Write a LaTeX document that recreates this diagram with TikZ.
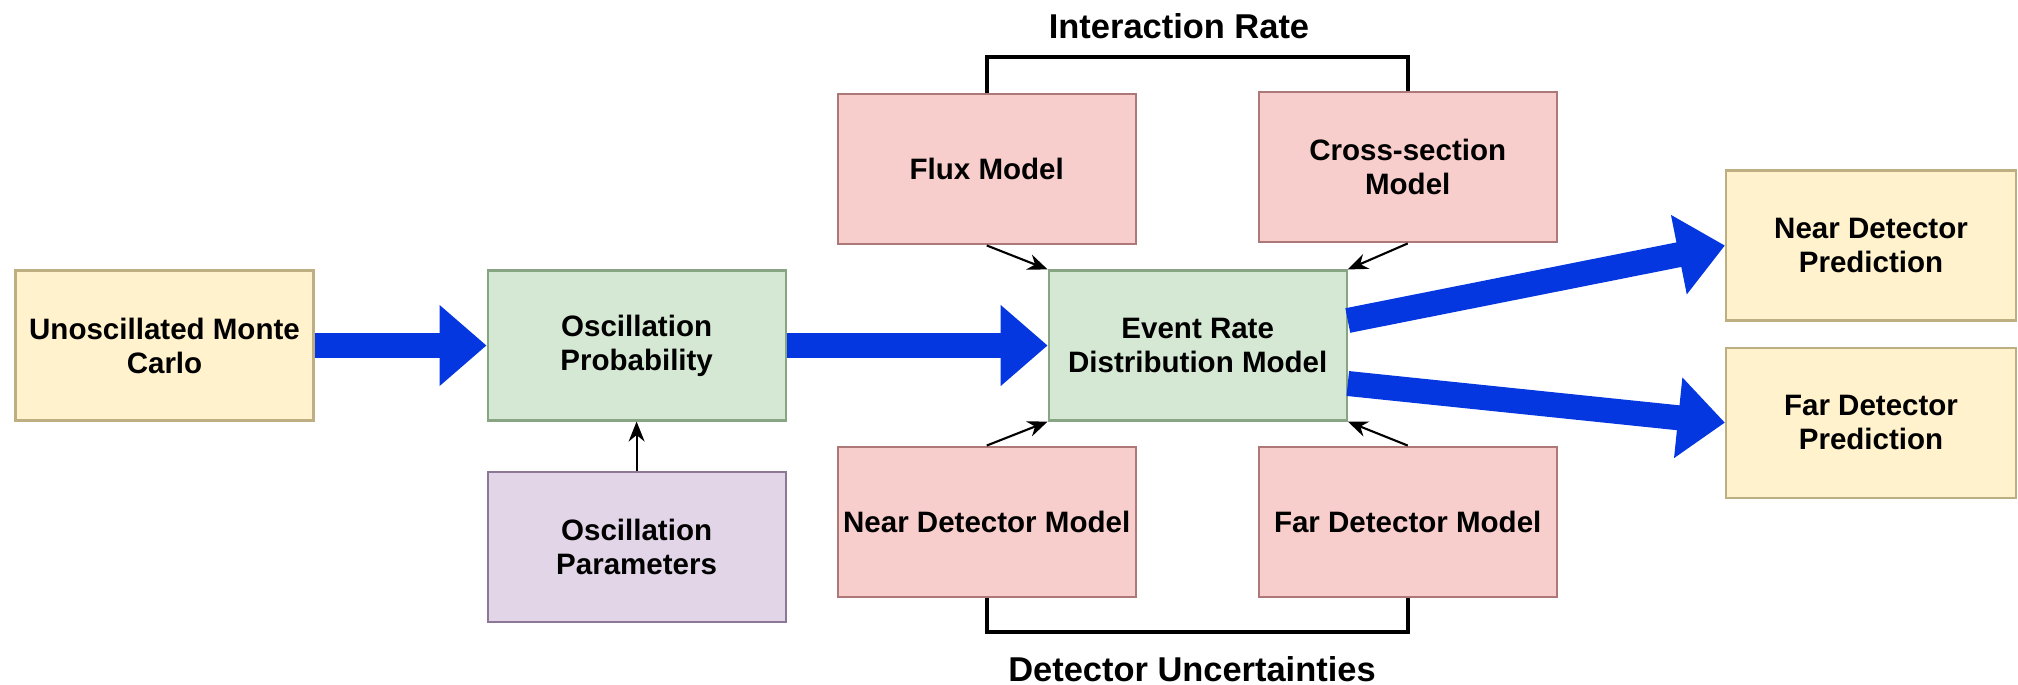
\documentclass[tikz,border=0pt]{standalone}
\usepackage{fontspec}
\setmainfont{Liberation Sans}
\usetikzlibrary{positioning,arrows.meta,calc}
\definecolor{boxyel}{HTML}{FFF2CC}
\definecolor{lineyel}{RGB}{190,175,130}
\definecolor{boxgrn}{HTML}{D5E8D4}
\definecolor{linegrn}{RGB}{135,165,130}
\definecolor{boxred}{HTML}{F8CECC}
\definecolor{linered}{RGB}{175,120,120}
\definecolor{boxpur}{HTML}{E1D5E7}
\definecolor{linepur}{RGB}{140,120,150}
\definecolor{flowblue}{RGB}{5,55,225}

\begin{document}
\begin{tikzpicture}[font=\fontsize{8.4pt}{9.65pt}\selectfont\bfseries,>=Stealth,
  blk/.style={draw,line width=0.6pt,minimum width=2.98cm,minimum height=1.5cm,
    inner sep=1pt,align=center},
  input/.style={blk,fill=boxyel,draw=lineyel},
  calc/.style={blk,fill=boxgrn,draw=linegrn},
  model/.style={blk,fill=boxred,draw=linered},
  param/.style={blk,fill=boxpur,draw=linepur},
  flow/.style={line width=0.25cm,draw=flowblue,
    -{Triangle[width=0.78cm,length=0.47cm]}},
  feed/.style={line width=0.6pt,-{Stealth[length=2mm,width=1.6mm]}},
  grp/.style={line width=1.1pt},
  lbl/.style={font=\fontsize{9.8pt}{11pt}\selectfont\bfseries}]
  \useasboundingbox (0,0) rectangle (20.18,-6.84);
  % ---- main chain ----
  \node[input] (umc) at (1.645,-3.455) {Unoscillated Monte\\Carlo};
  \node[calc,right=1.72cm of umc] (oprob) {Oscillation\\Probability};
  \node[param,below=0.49cm of oprob] (opar) {Oscillation\\Parameters};
  \node[calc,right=2.61cm of oprob] (event) {Event Rate\\Distribution Model};
  % ---- systematics around the event rate ----
  \node[model,above=0.24cm of event,xshift=-2.11cm] (flux) {Flux Model};
  \node[model,above=0.26cm of event,xshift=2.1cm] (xsec) {Cross-section\\Model};
  \node[model,below=0.24cm of event,xshift=-2.11cm] (ndm) {Near Detector Model};
  \node[model,below=0.24cm of event,xshift=2.1cm] (fdm) {Far Detector Model};
  \draw[grp] (flux.north) -- ++(0,0.36) -| (xsec.north);
  \draw[grp] (ndm.south) -- ++(0,-0.34) -| (fdm.south);
  \node[lbl] (irate) at (11.79,-0.26) {Interaction Rate};
  \node[lbl] (detunc) at (11.92,-6.69) {Detector Uncertainties};
  % ---- predictions ----
  \node[input,minimum width=2.9cm] (npred) at (18.71,-2.455)
     {Near Detector\\Prediction};
  \node[input,minimum width=2.9cm,below=0.25cm of npred] (fpred)
     {Far Detector\\Prediction};
  % ---- connectors ----
  \draw[feed] (opar.north) -- (oprob.south);
  \draw[feed] (flux.south) -- (event.north west);
  \draw[feed] (xsec.south) -- (event.north east);
  \draw[feed] (ndm.north) -- (event.south west);
  \draw[feed] (fdm.north) -- (event.south east);
  \draw[flow] (umc.east) -- (oprob.west);
  \draw[flow] (oprob.east) -- (event.west);
  \draw[flow] ($(event.east)+(0,0.25)$) -- (npred.west);
  \draw[flow] ($(event.east)+(0,-0.38)$) -- (fpred.west);
\end{tikzpicture}
\end{document}
